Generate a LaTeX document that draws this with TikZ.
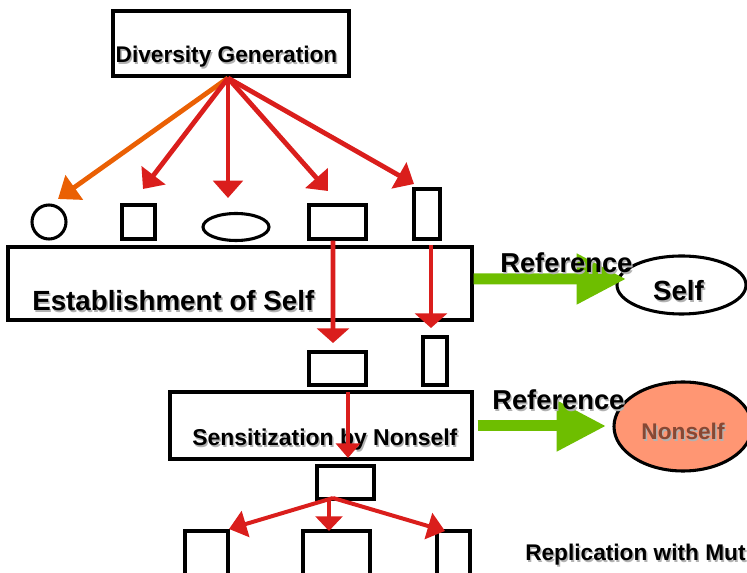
\documentclass[tikz,border=0pt]{standalone}
\usepackage{fontspec}
\setmainfont{Liberation Sans}
\usepackage{tikz}
\usetikzlibrary{arrows.meta, shapes.geometric, positioning}
\definecolor{arrred}{RGB}{218,30,28}
\definecolor{arrorange}{RGB}{234,96,4}
\definecolor{arrgreen}{RGB}{110,190,0}
\definecolor{salmon}{RGB}{255,150,115}
\definecolor{nstext}{RGB}{135,72,52}
\newcommand{\shd}[1]{\makebox[0pt][l]{\hspace{1.1pt}\raisebox{-1.1pt}{\textcolor{black!30}{#1}}}#1}
\tikzset{
  box/.style={draw, line width=2.3pt, inner sep=0pt},
  lbl/.style={inner sep=0pt, font=\bfseries},
  redarr/.style={draw=arrred, line width=3.6pt, -{Triangle[width=22pt, length=13pt]}},
  greenarr/.style={draw=arrgreen, line width=8.25pt, -{Triangle[width=36pt, length=37pt]}}
}

\begin{document}
\begin{tikzpicture}[x=0.75pt, y=-0.75pt]
\useasboundingbox (0,0) rectangle (747,573);
\clip (0,0) rectangle (747,573);
% boxes
\node[box, minimum width=177pt, minimum height=48.75pt] (dg) at (231,43.5) {};
\node[box, minimum width=348pt, minimum height=54.75pt] (est) at (240,283.5) {};
\node[box, minimum width=226.5pt, minimum height=50.25pt] (sens) at (321,425.5) {};
% first row of shapes
\node[box, circle, minimum size=25.5pt] (circ) at (49,222) {};
\node[box, minimum width=24.75pt, minimum height=25.5pt] (sqA) at (138.5,222) {};
\node[box, ellipse, minimum width=49.5pt, minimum height=20.25pt] (ell) at (236,227) {};
\node[box, minimum width=42.75pt, minimum height=25.5pt] (recA) at (337.5,222) {};
\node[box, minimum width=19.5pt, minimum height=37.5pt] (talA) at (427,214) {};
% second row
\node[box, minimum width=42.75pt, minimum height=24.75pt] (recB) at (337.5,368.5) {};
\node[box, minimum width=18pt, minimum height=36pt] (talB) at (435,361) {};
\node[box, minimum width=42.75pt, minimum height=24.75pt] (recC) at (345.5,482.5) {};
% bottom row
\node[box, minimum width=32.25pt, minimum height=43.5pt] (botA) at (206.5,560) {};
\node[box, minimum width=50.25pt, minimum height=43.5pt] (botB) at (336.5,560) {};
\node[box, minimum width=24.75pt, minimum height=43.5pt] (botC) at (453.5,560) {};
% self and nonself
\node[box, ellipse, fill=white, minimum width=96.75pt, minimum height=43.5pt] (self) at (681.5,285) {};
\node[box, ellipse, fill=salmon, minimum width=103.5pt, minimum height=66.75pt] (nonself) at (683,426.5) {};

% texts
\node[lbl, font=\fontsize{17}{20}\selectfont\bfseries, anchor=base] (dgt) at (226.5,63) {\shd{Diversity Generation}};
\node[lbl, font=\fontsize{20.8}{24}\selectfont\bfseries, anchor=base west] (estt) at (32,311) {\shd{Establishment of Self}};
\node[lbl, font=\fontsize{17.2}{20}\selectfont\bfseries, anchor=base west] (senst) at (192,446) {\shd{Sensitization by Nonself}};
\node[lbl, font=\fontsize{17}{20}\selectfont\bfseries, anchor=base west] (rept) at (525,561) {\shd{Replication with Mut}};
\node[lbl, font=\fontsize{20.8}{24}\selectfont\bfseries, anchor=base] (selft) at (678.5,301) {\shd{Self}};
\node[lbl, font=\fontsize{17}{20}\selectfont\bfseries, text=nstext, anchor=base] (nst) at (683,440) {\shd{Nonself}};

% diversity fan
\coordinate (hub) at (228,78);
\coordinate (tcirc) at (58,199);
\coordinate (tsq) at (143,189);
\coordinate (tell) at (228,198);
\coordinate (trec) at (328,191);
\coordinate (ttal) at (414,184);
\draw[redarr, draw=arrorange, -{Triangle[width=22pt, length=15pt]}] (hub) -- (tcirc);
\foreach \t in {tsq, tell, trec, ttal}
  \draw[redarr] (hub) -- (\t);

% selection through self
\coordinate (dA) at (333,343);
\coordinate (dB) at (431,328);
\draw[redarr, -{Triangle[width=24pt, length=11pt]}] ([xshift=-3.4pt]recA.south) -- (dA);
\draw[redarr, -{Triangle[width=24pt, length=11pt]}] (dB |- est.north) -- (dB);
\coordinate (dC) at (348,458);
\draw[redarr, line width=3pt, -{Triangle[width=18pt, length=11pt]}] ([yshift=-1.5pt]dC |- sens.north) -- (dC);

% replication fan
\coordinate (rhub) at (333,498);
\coordinate (tbA) at (229,529);
\coordinate (tbB) at (329,531);
\coordinate (tbC) at (445,531);
\draw[redarr, line width=3pt, -{Triangle[width=20pt, length=13pt]}] (rhub) -- (tbA);
\draw[redarr, line width=3pt, -{Triangle[width=20pt, length=11pt]}] (rhub -| tbB) -- (tbB);
\draw[redarr, line width=3pt, -{Triangle[width=20pt, length=13pt]}] (rhub) -- (tbC);

% references
\coordinate (tself) at (626,279);
\coordinate (tnon) at (606,426);
\draw[greenarr] ([yshift=3.4pt]est.east) -- (tself);
\draw[greenarr] ([xshift=3pt]sens.east |- tnon) -- (tnon);
\node[lbl, font=\fontsize{20.5}{24}\selectfont\bfseries, anchor=base west] (ref1) at (500,273) {\shd{Reference}};
\node[lbl, font=\fontsize{20.5}{24}\selectfont\bfseries, anchor=base west] (ref2) at (492,410) {\shd{Reference}};
\end{tikzpicture}
\end{document}
